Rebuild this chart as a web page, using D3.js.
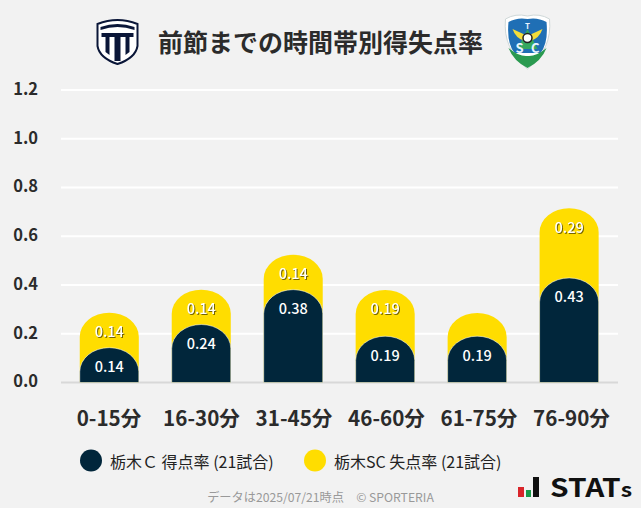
<!DOCTYPE html>
<html lang="ja">
<head>
<meta charset="UTF-8">
<title>前節までの時間帯別得失点率</title>
<script src="https://d3js.org/d3.v7.min.js"></script>
<style>
    html, body { margin: 0; padding: 0; background: #f2f2f2; }
    svg { display: block; }
    text { font-family: "Noto Sans CJK JP", "Noto Sans", sans-serif; }
    .ytick text { font-size: 16.5px; font-weight: 700; fill: #2b2b2b; }
    .xtick text { font-size: 20.6px; font-weight: 700; fill: #2b2b2b; }
    .val { font-size: 14.5px; font-weight: 500; fill: #fff; text-anchor: middle; dominant-baseline: central; }
    .val.on-yellow { filter: drop-shadow(1px 1px 0 rgba(70,60,0,.75)); }
</style>
</head>
<body>
<svg width="641" height="508"></svg>

<script>
    var timeBands = ["0-15分", "16-30分", "31-45分", "46-60分", "61-75分", "76-90分"];
    var goalsFor = [0.143, 0.238, 0.381, 0.190, 0.190, 0.429];
    var goalsAgainst = [0.143, 0.143, 0.143, 0.190, 0.095, 0.286];
    var yTicks = [0, 0.2, 0.4, 0.6, 0.8, 1.0, 1.2];
    var legendLabels = ["栃木Ｃ 得点率 (21試合)", "栃木SC 失点率 (21試合)"];
    var colors = ["#01263b", "#ffdd00"];

    var svg = d3.select("svg");
    svg.append("rect").attr("width", 641).attr("height", 508).attr("fill", "#f2f2f2");

    var x = d3.scaleBand().domain(timeBands).range([63.3, 615.1]).paddingInner(0.358).paddingOuter(0.179);
    var y = d3.scaleLinear().domain([0, 1.2]).range([382.5, 90]);
    // the tick labels are spread slightly wider than the bars
    var xLabels = d3.scalePoint().domain(timeBands).range([108.5, 571]);

    // grid + y labels
    var yAxis = svg.append("g")
        .attr("class", "ytick")
        .attr("transform", "translate(61,-1)")
        .call(d3.axisLeft(y).tickValues(yTicks).tickSize(0).tickPadding(23).tickFormat(d3.format(".1f")));
    yAxis.select(".domain").remove();

    svg.append("g").selectAll("line")
        .data(yTicks)
        .enter().append("line")
        .attr("x1", 61).attr("x2", 618)
        .attr("y1", function(d) { return y(d); })
        .attr("y2", function(d) { return y(d); })
        .attr("stroke", function(d) { return d === 0 ? "#d8d8d8" : "#fff"; })
        .attr("stroke-width", 2);

    var xAxis = svg.append("g")
        .attr("class", "xtick")
        .attr("transform", "translate(0,382)")
        .call(d3.axisBottom(xLabels).tickSize(0).tickPadding(29));
    xAxis.select(".domain").remove();

    function roundedTop(i, top) {
        var left = x(timeBands[i]), w = x.bandwidth(), rx = w / 2, ry = 24;
        var base = y(0);
        return "M" + left + "," + base +
            "V" + (top + ry) +
            "A" + rx + "," + ry + " 0 0 1 " + (left + w) + "," + (top + ry) +
            "V" + base + "Z";
    }

    // yellow sits on top of the navy value, drawn first so the navy overlaps it
    svg.append("g").selectAll("path")
        .data(goalsAgainst)
        .enter().append("path")
        .attr("fill", colors[1])
        .attr("d", function(d, i) { return roundedTop(i, y(goalsFor[i] + d)); });

    svg.append("g").selectAll("path")
        .data(goalsFor)
        .enter().append("path")
        .attr("fill", colors[0])
        .attr("stroke", "#fff")
        .attr("stroke-opacity", 0.75)
        .attr("stroke-width", 0.7)
        .attr("d", function(d, i) { return roundedTop(i, y(d)); });

    // labels, too small segments get none
    svg.append("g").selectAll("text")
        .data(d3.range(timeBands.length).filter(function(i) { return goalsAgainst[i] >= 0.1; }))
        .enter().append("text")
        .attr("class", "val on-yellow")
        .attr("x", function(i) { return x(timeBands[i]) + x.bandwidth() / 2; })
        .attr("y", function(i) { return y(goalsFor[i] + goalsAgainst[i]) + 18; })
        .text(function(i) { return goalsAgainst[i].toFixed(2); });

    svg.append("g").selectAll("text")
        .data(goalsFor)
        .enter().append("text")
        .attr("class", "val")
        .attr("x", function(d, i) { return x(timeBands[i]) + x.bandwidth() / 2; })
        .attr("y", function(d) { return y(d) + 18; })
        .text(function(d) { return d.toFixed(2); });

    // title
    svg.append("text")
        .attr("x", 320.5).attr("y", 41)
        .attr("text-anchor", "middle").attr("dominant-baseline", "central")
        .attr("font-size", 25).attr("font-weight", 700).attr("fill", "#2b2b2b")
        .text("前節までの時間帯別得失点率");

    // legend
    var legendX = [91, 315];
    var legend = svg.append("g").selectAll("g")
        .data(legendLabels)
        .enter().append("g")
        .attr("transform", function(d, i) { return "translate(" + legendX[i] + ",460.5)"; });
    legend.append("circle").attr("r", 11).attr("fill", function(d, i) { return colors[i]; });
    legend.append("text")
        .attr("x", 19).attr("dominant-baseline", "central")
        .attr("font-size", 16).attr("fill", "#222")
        .text(function(d) { return d; });

    // footer
    svg.append("text")
        .attr("x", 320.5).attr("y", 497)
        .attr("text-anchor", "middle").attr("dominant-baseline", "central")
        .attr("font-size", 12.2).attr("fill", "#999")
        .text("データは2025/07/21時点　© SPORTERIA");

    // club crest, left
    var left = svg.append("g").attr("transform", "translate(117.5,42)");
    left.append("path").attr("d", "M-20,-18Q0,-26 20,-18V4Q18,16 0,22Q-18,16 -20,4Z")
        .attr("fill", "#fff").attr("stroke", "#0a1638").attr("stroke-width", 2);
    left.append("path").attr("d", "M-17,-15Q0,-21 17,-15V-12Q0,-18 -17,-12Z").attr("fill", "#0a1638");
    left.append("path")
        .attr("d", "M-16,-9H16V-5H12V10L8,13V-5H3V19L-3,19V-5H-8V13L-12,10V-5H-16Z")
        .attr("fill", "#0a1638");

    // club crest, right
    var right = svg.append("g").attr("transform", "translate(527.5,41)");
    right.append("path").attr("d", "M-22,-22Q-12,-28 0,-25Q12,-28 22,-22Q25,8 0,28Q-25,8 -22,-22Z")
        .attr("fill", "#fff").attr("stroke", "#cfd8d8").attr("stroke-width", 1);
    right.append("path").attr("d", "M-19,-19Q-10,-24 0,-22Q10,-24 19,-19Q21,2 13,12L-13,12Q-21,2 -19,-19Z").attr("fill", "#1f6fb5");
    right.append("path").attr("d", "M-19,7Q-8,16 0,15Q8,16 19,7Q14,20 0,27Q-14,20 -19,7Z").attr("fill", "#2a9a50");
    right.append("path").attr("d", "M0,-12L10,8H-10Z").attr("fill", "#35a860");
    right.append("path").attr("d", "M-2,-6L-15,-12Q-12,-3 -3,0Z").attr("fill", "#f2dc3a");
    right.append("path").attr("d", "M2,-6L15,-12Q12,-3 3,0Z").attr("fill", "#f2dc3a");
    right.append("circle").attr("cy", -3).attr("r", 4.5).attr("fill", "#fff").attr("stroke", "#222").attr("stroke-width", 1.5);
    right.append("text").attr("y", -12).attr("text-anchor", "middle")
        .attr("font-size", 8).attr("font-weight", 700).attr("fill", "#e8f4ff").text("T");
    right.append("text").attr("y", 12).attr("text-anchor", "middle").attr("textLength", 24)
        .attr("font-size", 13).attr("font-weight", 700).attr("fill", "#e8f4ff").text("S C");

    // STATs logo
    var stats = svg.append("g");
    stats.append("rect").attr("x", 518).attr("y", 487).attr("width", 6).attr("height", 10).attr("fill", "#d9252a");
    stats.append("rect").attr("x", 526).attr("y", 490).attr("width", 5).attr("height", 7).attr("fill", "#1a9a4a");
    stats.append("rect").attr("x", 533).attr("y", 477).attr("width", 6).attr("height", 20).attr("fill", "#111");
    var statsText = stats.append("text")
        .attr("x", 550).attr("y", 497)
        .attr("font-family", "DejaVu Sans").attr("font-size", 26).attr("font-weight", 700).attr("fill", "#111")
        .attr("textLength", 82).attr("lengthAdjust", "spacingAndGlyphs");
    statsText.append("tspan").text("STAT");
    statsText.append("tspan").attr("font-size", 20).text("s");
</script>
</body>
</html>
